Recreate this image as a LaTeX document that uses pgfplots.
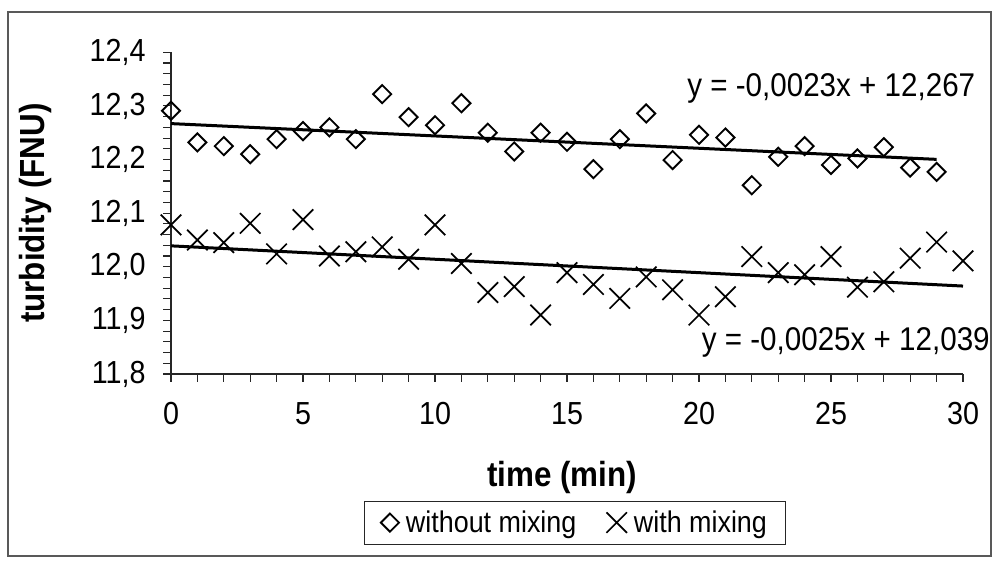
\documentclass[border=0pt]{standalone}
\usepackage{fontspec}
\setmainfont{Liberation Sans}[FakeStretch=0.9]
\usepackage{pgfplots}
\pgfplotsset{compat=1.18}
\begin{document}
\begin{tikzpicture}[x=1bp,y=1bp]
\path[use as bounding box] (0,0) rectangle (994,564);
\draw[black!65, line width=1.6bp] (8,8) rectangle (991,552);
\begin{axis}[
  at={(171bp,190bp)}, anchor=south west,
  scale only axis, width=792bp, height=321.7bp,
  xmin=0, xmax=30, ymin=11.8, ymax=12.4,
  axis x line=bottom, axis y line=left,
  axis line style={-, black!85, line width=1.2bp},
  xtick={0,5,...,30}, minor x tick num=4,
  ytick={11.8,11.9,...,12.41}, minor y tick num=4,
  tick align=outside,
  major tick length=8bp, minor tick length=8bp,
  every tick/.style={black!85, line width=1.1bp},
  tick label style={font=\fontsize{32}{36}\selectfont},
  xticklabel style={yshift=-17bp},
  /pgf/number format/assume math mode=true,
  yticklabel style={xshift=-14bp, /pgf/number format/.cd, use comma, fixed, fixed zerofill, precision=1},
  xlabel={\bfseries time (min)},
  ylabel={\bfseries turbidity (FNU)},
  label style={font=\fontsize{35}{39}\selectfont},
  xlabel style={at={(axis description cs:0.494,-0.323)}, anchor=center},
  ylabel style={at={(axis description cs:-0.171,0.5)}, anchor=center},
  clip=false,
  legend columns=2,
  legend style={at={(axis description cs:0.51,-0.462)}, anchor=center,
    draw=black!85, line width=0.8bp, font=\fontsize{30}{34}\selectfont,
    inner xsep=16bp, inner ysep=8bp,
    /tikz/every odd column/.append style={column sep=5bp},
    /tikz/every even column/.append style={column sep=28bp}},
]
\addplot[only marks, mark=square, mark size=6.4bp, black,
  mark options={rotate=45, line width=1.9bp}] coordinates {
(0,12.291) (1,12.232) (2,12.225) (3,12.210) (4,12.238) (5,12.253)
(6,12.260) (7,12.238) (8,12.322) (9,12.279) (10,12.264) (11,12.305)
(12,12.250) (13,12.215) (14,12.250) (15,12.233) (16,12.182) (17,12.238)
(18,12.286) (19,12.199) (20,12.246) (21,12.241) (22,12.152) (23,12.205)
(24,12.225) (25,12.190) (26,12.202) (27,12.223) (28,12.185) (29,12.177)
};
\addlegendentry{without mixing}
\addplot[only marks, mark=x, mark size=14.5bp, black,
  mark options={line width=1.7bp}] coordinates {
(0,12.078) (1,12.050) (2,12.045) (3,12.081) (4,12.024) (5,12.088)
(6,12.020) (7,12.028) (8,12.037) (9,12.014) (10,12.078) (11,12.006)
(12,11.952) (13,11.963) (14,11.910) (15,11.989) (16,11.967) (17,11.941)
(18,11.981) (19,11.957) (20,11.910) (21,11.944) (22,12.019) (23,11.989)
(24,11.985) (25,12.019) (26,11.962) (27,11.972) (28,12.016) (29,12.046)
(30,12.011)
};
\addlegendentry{with mixing}
\addplot[black, line width=3bp, forget plot] coordinates {(0,12.267) (29,12.2003)};
\addplot[black, line width=3bp, forget plot] coordinates {(0,12.039) (30,11.964)};
\node[anchor=west, font=\fontsize{33}{37}\selectfont, inner sep=0pt] at (axis cs:19.55,12.333) {y = -0,0023x + 12,267};
\node[anchor=west, font=\fontsize{33}{37}\selectfont, inner sep=0pt] at (axis cs:20.1,11.858) {y = -0,0025x + 12,039};
\end{axis}
\end{tikzpicture}
\end{document}
